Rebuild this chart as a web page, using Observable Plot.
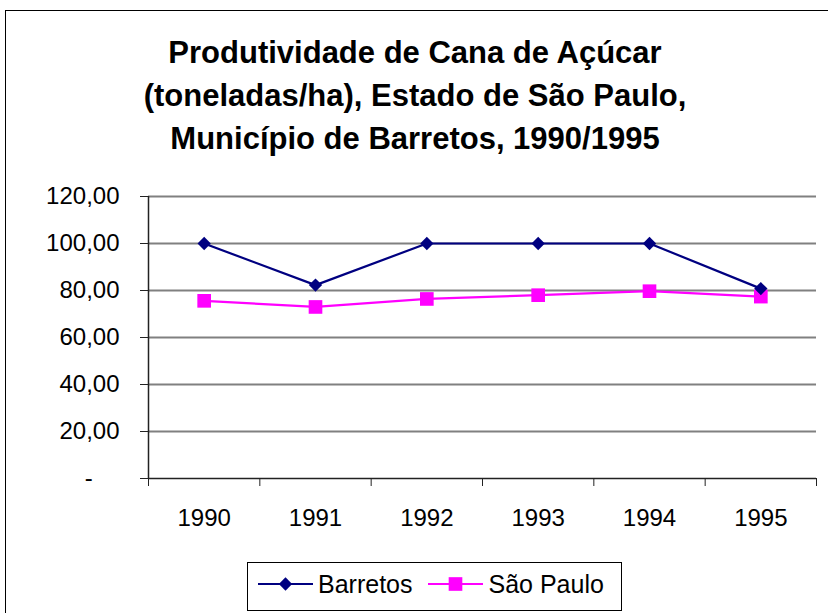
<!DOCTYPE html>
<html><head><meta charset="utf-8">
<script src="https://cdn.jsdelivr.net/npm/d3@7"></script>
<script src="https://cdn.jsdelivr.net/npm/@observablehq/plot@0.6"></script>
<style>
body{margin:0;background:#fff;font-family:"Liberation Sans",Arial,sans-serif;color:#000;}
#wrap{position:relative;width:828px;height:613px;overflow:hidden;background:#fff;}
#frame{position:absolute;left:5px;top:10px;width:850px;height:650px;border:1.5px solid #000;box-sizing:border-box;}
#title{position:absolute;left:5px;width:820px;top:31px;text-align:center;font-weight:bold;font-size:31px;line-height:43px;}
#chart{position:absolute;left:0;top:170px;}
#legend{position:absolute;left:247px;top:562px;width:375px;height:49px;border:1px solid #000;box-sizing:border-box;display:flex;align-items:center;font-size:25px;padding-left:10px;padding-bottom:5px;}
#legend .item{display:flex;align-items:center;margin-right:16px;}
#legend svg{margin-right:5px;}
</style>
</head><body>
<div id="wrap">
  <div id="frame"></div>
  <div id="title">Produtividade de Cana de Açúcar<br>(toneladas/ha), Estado de São Paulo,<br>Município de Barretos, 1990/1995</div>
  <div id="chart"></div>
  <div id="legend"></div>
</div>
<script>
const years = [1990, 1991, 1992, 1993, 1994, 1995];
const barretos = [100, 82.3, 100, 100, 100, 80.8];
const saoPaulo = [75.6, 73.0, 76.4, 78.0, 79.7, 77.4];
const yTicks = [0, 20, 40, 60, 80, 100, 120];
const seriesNames = ["Barretos", "São Paulo"];
const seriesColors = ["#000080", "#FF00FF"];
const seriesSymbols = ["diamond2", "square"];

const data = years.flatMap((yr, i) => [
  {year: yr, value: barretos[i], series: seriesNames[0]},
  {year: yr, value: saoPaulo[i], series: seriesNames[1]}
]);
const boundaries = [...years.map(y => y - 0.5), years[years.length - 1] + 0.5];
const fmt = v => v === 0 ? "-\u2007\u2007" : d3.format(".2f")(v).replace(".", ",");

const chart = Plot.plot({
  width: 828, height: 370,
  marginLeft: 148, marginRight: 12, marginTop: 26, marginBottom: 62,
  style: {fontFamily: "'Liberation Sans', Arial, sans-serif", fontSize: "24px", color: "#000", background: "transparent", overflow: "visible"},
  x: {type: "linear", domain: [boundaries[0], boundaries[boundaries.length - 1]], label: null},
  y: {domain: [0, 120], label: null},
  color: {domain: seriesNames, range: seriesColors},
  marks: [
    Plot.gridY(yTicks.filter(v => v > 0), {stroke: "#808080", strokeOpacity: 1, strokeWidth: 2}),
    Plot.ruleX([boundaries[0]], {stroke: "#222", strokeWidth: 1.5}),
    Plot.ruleY([0], {stroke: "#222", strokeWidth: 1.5}),
    Plot.axisY(yTicks, {tickSize: 8, tickPadding: 21, tickFormat: fmt, stroke: "#222", fontSize: 24, label: null}),
    Plot.axisX(boundaries, {tickSize: 8, tickFormat: () => "", stroke: "#222", label: null}),
    Plot.axisX(years, {tickSize: 0, tickPadding: 30, tickFormat: d => String(d), fontSize: 24, label: null}),
    Plot.line(data, {x: "year", y: "value", z: "series", stroke: "series", strokeWidth: 2.2}),
    Plot.dot(data.filter(d => d.series === seriesNames[1]), {x: "year", y: "value", symbol: () => seriesSymbols[1], fill: "series", r: 7.7}),
    Plot.dot(data.filter(d => d.series === seriesNames[0]), {x: "year", y: "value", symbol: () => seriesSymbols[0], fill: "series", r: 6})
  ]
});
document.getElementById("chart").appendChild(chart);

// legend
const leg = document.getElementById("legend");
seriesNames.forEach((name, i) => {
  const item = document.createElement("div");
  item.className = "item";
  const rr = i === 0 ? 6 : 7.7;
  const sym = d3.symbol(i === 0 ? d3.symbolDiamond2 : d3.symbolSquare, Math.PI * rr * rr)();
  item.innerHTML = `<svg width="55" height="20" viewBox="0 0 55 20"><line x1="0" x2="55" y1="10" y2="10" stroke="${seriesColors[i]}" stroke-width="2"/><path transform="translate(27.5,10)" d="${sym}" fill="${seriesColors[i]}"/></svg><span>${name}</span>`;
  leg.appendChild(item);
});
</script>
</body></html>
